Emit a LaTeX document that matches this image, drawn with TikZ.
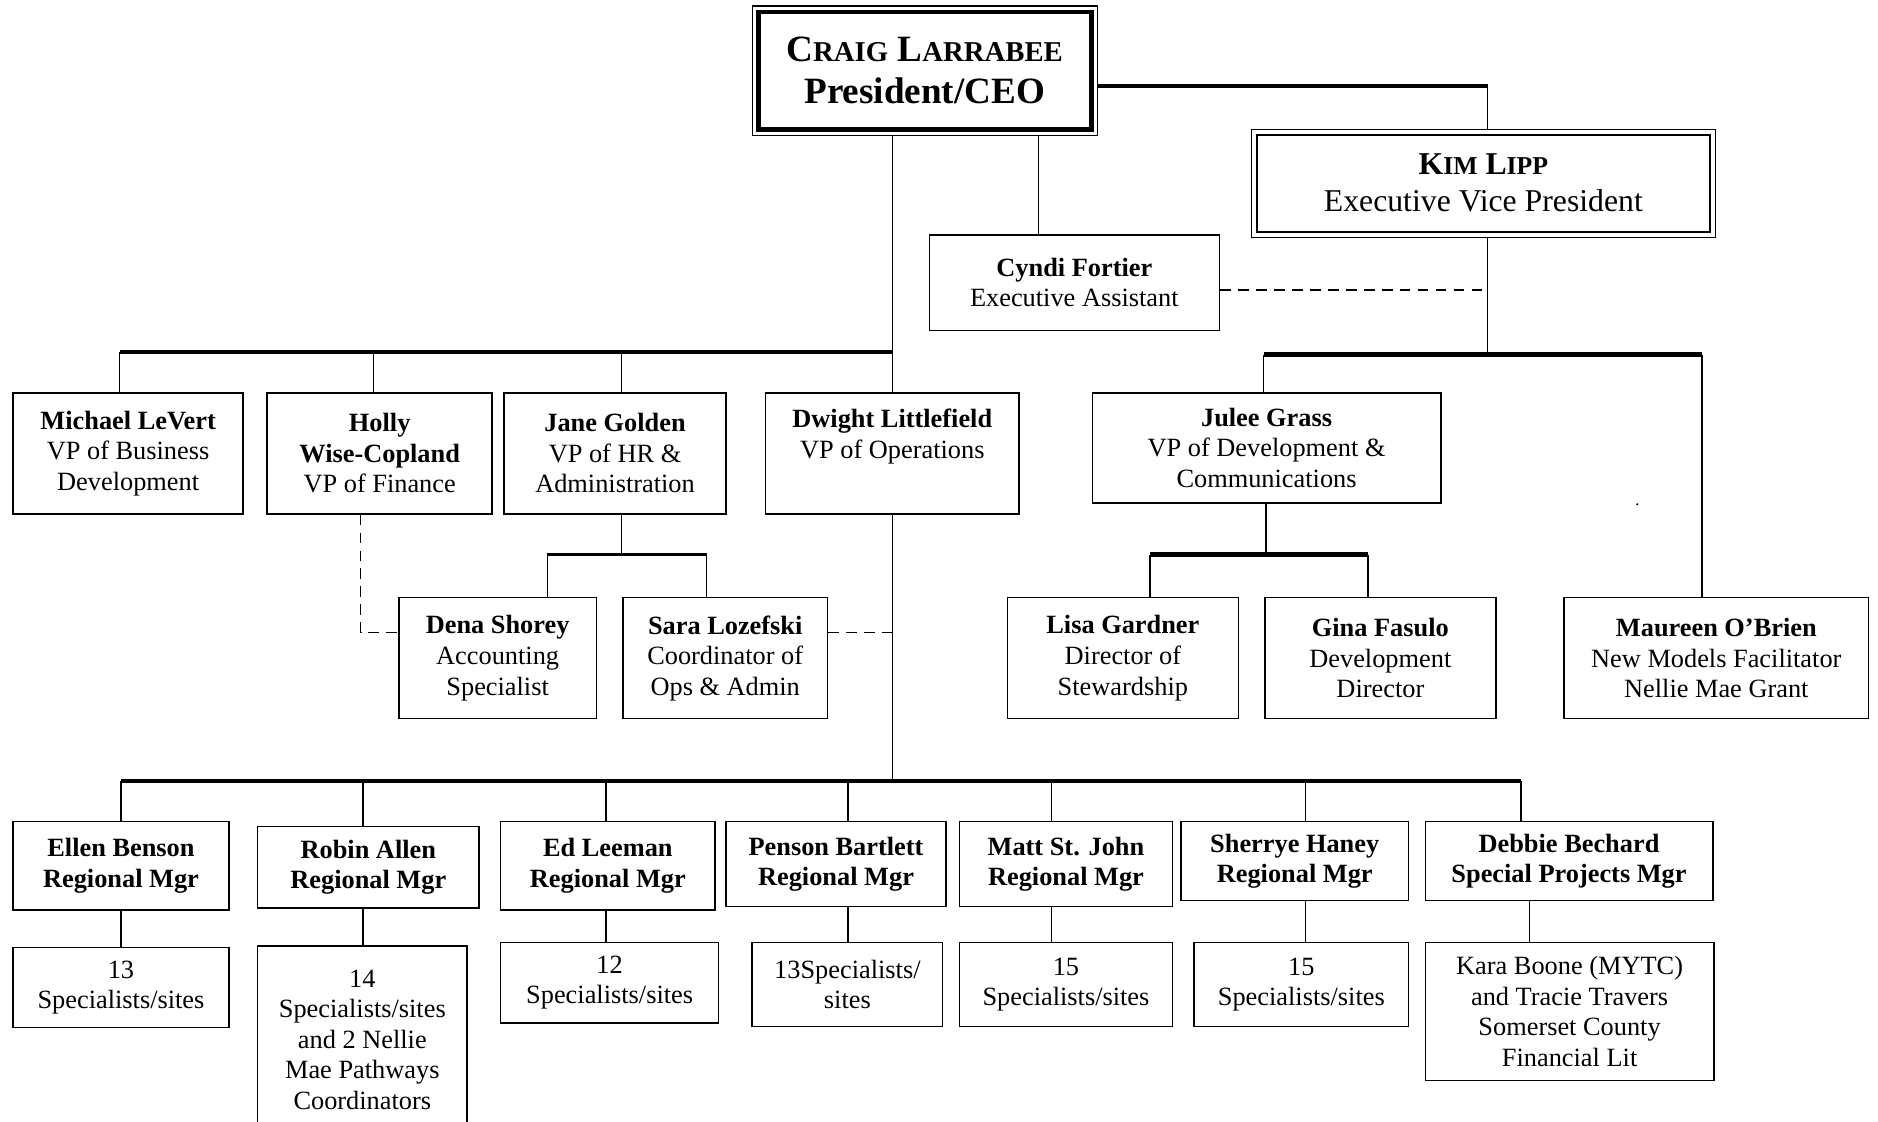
\documentclass[tikz,border=0pt]{standalone}
\usepackage{fontspec}
\setmainfont{Liberation Serif}
\newcommand\orgbox[6]{%
  \node[box, minimum width={(#3-#2)*1pt}, minimum height={(#5-#4)*1pt}] (#1) at ({(#2+#3)/2},{(#4+#5)/2}) {#6};}
\newcommand\smc[1]{{\fontsize{24}{35}\selectfont #1}}
\newcommand\smk[1]{{\fontsize{21.5}{31}\selectfont #1}}
\begin{document}
\begin{tikzpicture}[x=1pt,y=-1pt,
  box/.style={draw, line width=1.3pt, inner sep=0pt, align=center, font=\fontsize{22}{25.5}\selectfont},
  conn/.style={line width=1.2pt},
  bar/.style={line width=3.5pt},
  midbar/.style={line width=2pt},
  dashline/.style={line width=1.2pt, dash pattern=on 9pt off 6pt}]
\useasboundingbox (0,0) rectangle (1568,936);
\fill[white] (0,0) rectangle (1568,936);

% top level
\node[draw, line width=1pt, inner sep=0pt, minimum width=288pt, minimum height=108pt,
  align=center, font=\fontsize{31}{35}\selectfont\bfseries] (ceo) at (772,59)
  {C\smc{RAIG} L\smc{ARRABEE}\\President/CEO};
\draw[line width=4pt] ([shift={(5.5pt,-5.5pt)}]ceo.north west) rectangle ([shift={(-5.5pt,5.5pt)}]ceo.south east);

\node[draw, line width=1pt, inner sep=0pt, minimum width=387pt, minimum height=90pt,
  align=center, font=\fontsize{26.5}{31}\selectfont] (kim) at (1238.5,153)
  {\textbf{K\smk{IM} L\smk{IPP}}\\Executive Vice President};
\draw[line width=2pt] ([shift={(5pt,-5pt)}]kim.north west) rectangle ([shift={(-5pt,5pt)}]kim.south east);

\orgbox{cyndi}{776}{1018}{196}{276}{\textbf{Cyndi Fortier}\\Executive Assistant}

% row 2
\orgbox{michael}{11}{203}{328}{429}{\textbf{Michael LeVert}\\VP of Business\\Development}
\orgbox{holly}{223}{411}{328}{429}{\textbf{Holly}\\\textbf{Wise-Copland}\\VP of Finance}
\orgbox{jane}{421}{606}{328}{429}{\textbf{Jane Golden}\\VP of HR \&\\Administration}
\orgbox{dwight}{639}{851}{328}{429}{\textbf{Dwight Littlefield}\\VP of Operations\\\strut}
\orgbox{julee}{912}{1203}{328}{420}{\textbf{Julee Grass}\\VP of Development \&\\Communications}

% row 2b
\orgbox{dena}{333}{498}{499}{600}{\textbf{Dena Shorey}\\Accounting\\Specialist}
\orgbox{sara}{520}{691}{499}{600}{\textbf{Sara Lozefski}\\Coordinator of\\Ops \& Admin}
\orgbox{lisa}{841}{1034}{499}{600}{\textbf{Lisa Gardner}\\Director of\\Stewardship}
\orgbox{gina}{1056}{1249}{499}{600}{\textbf{Gina Fasulo}\\Development\\Director}
\orgbox{maureen}{1306}{1560}{499}{600}{\textbf{Maureen O’Brien}\\New Models Facilitator\\Nellie Mae Grant}

% row 3
\orgbox{ellen}{11}{191}{686}{760}{\textbf{Ellen Benson}\\\textbf{Regional Mgr}}
\orgbox{robin}{215}{400}{690}{758}{\textbf{Robin Allen}\\\textbf{Regional Mgr}}
\orgbox{ed}{418}{597}{686}{760}{\textbf{Ed Leeman}\\\textbf{Regional Mgr}}
\orgbox{penson}{606}{790}{686}{757}{\textbf{Penson Bartlett}\\\textbf{Regional Mgr}}
\orgbox{matt}{801}{979}{686}{757}{\textbf{Matt St. John}\\\textbf{Regional Mgr}}
\orgbox{sherrye}{986}{1176}{686}{752}{\textbf{Sherrye Haney}\\\textbf{Regional Mgr}}
\orgbox{debbie}{1190}{1430}{686}{752}{\textbf{Debbie Bechard}\\\textbf{Special Projects Mgr}}

% row 4
\orgbox{ellenS}{11}{191}{791}{858}{13\\Specialists/sites}
\orgbox{robinS}{215}{390}{790}{946}{14\\Specialists/sites\\and 2 Nellie\\Mae Pathways\\Coordinators}
\orgbox{edS}{418}{600}{787}{854}{12\\Specialists/sites}
\orgbox{pensonS}{628}{787}{787}{857}{13Specialists/\\sites}
\orgbox{mattS}{801}{979}{787}{857}{15\\Specialists/sites}
\orgbox{sherryeS}{997}{1176}{787}{857}{15\\Specialists/sites}
\orgbox{debbieS}{1190}{1431}{787}{902}{Kara Boone (MYTC)\\and Tracie Travers\\Somerset County\\Financial Lit}

% junction coordinates
\coordinate (jM) at (100,294);
\coordinate (jH) at (312,294);
\coordinate (jJ) at (519,294);
\coordinate (jD) at (745,294);
\coordinate (cy) at (867,200);
\coordinate (kA) at (1242,72);
\coordinate (jK) at (1242,296);
\coordinate (jJu) at (1055,296);
\coordinate (jMa) at (1421,296);
\coordinate (dK) at (1242,242);
\coordinate (jG) at (1057,463);
\coordinate (jLi) at (960,463);
\coordinate (jGi) at (1142,463);
\coordinate (jJa) at (519,463);
\coordinate (jDe) at (457,463);
\coordinate (jSa) at (590,463);
\coordinate (hD) at (301,528);
\coordinate (sD) at (745,528);
\coordinate (jB) at (745,652);
\coordinate (b1) at (101,652);
\coordinate (b2) at (303,652);
\coordinate (b3) at (506,652);
\coordinate (b4) at (708,652);
\coordinate (b5) at (878,652);
\coordinate (b6) at (1090,652);
\coordinate (b7) at (1270,652);
\coordinate (s7) at (1277,770);

% CEO connections
\draw[conn] (ceo.south -| jD) -- (dwight.north);
\draw[bar] (jM) -- (jD);
\draw[conn] (jM) -- (jM |- michael.north);
\draw[conn] (jH) -- (jH |- holly.north);
\draw[conn] (jJ) -- (jJ |- jane.north);
\draw[conn] (ceo.south -| cy) -- (cyndi.north -| cy);
\draw[bar] (ceo.east |- kA) -- (kA);
\draw[conn] (kA) -- (kA |- kim.north);
\draw[dashline] (cyndi.east |- dK) -- (dK);

% Kim connections
\draw[conn] (kim.south -| jK) -- (jK);
\draw[bar] (jJu) -- (jMa);
\draw[conn] (jJu) -- (jJu |- julee.north);
\draw[conn] (jMa) -- (jMa |- maureen.north);

% Julee
\draw[conn] (julee.south -| jG) -- (jG);
\draw[bar] (jLi) -- (jGi);
\draw[conn] (jLi) -- (jLi |- lisa.north);
\draw[conn] (jGi) -- (jGi |- gina.north);

% Jane
\draw[conn] (jane.south -| jJa) -- (jJa);
\draw[midbar] (jDe) -- (jSa);
\draw[conn] (jDe) -- (jDe |- dena.north);
\draw[conn] (jSa) -- (jSa |- sara.north);

% dashed
\draw[dashline] (holly.south -| hD) -- (hD) -- (hD -| dena.west);
\draw[dashline] (sara.east |- sD) -- (sD);

% Dwight
\draw[conn] (dwight.south) -- (jB);
\draw[bar] (b1) -- (b7);
\draw[conn] (b1) -- (b1 |- ellen.north);
\draw[conn] (b2) -- (b2 |- robin.north);
\draw[conn] (b3) -- (b3 |- ed.north);
\draw[conn] (b4) -- (b4 |- penson.north);
\draw[conn] (b5) -- (b5 |- matt.north);
\draw[conn] (b6) -- (b6 |- sherrye.north);
\draw[conn] (b7) -- (b7 |- debbie.north);

% row 3 to row 4
\draw[conn] (ellen.south -| b1) -- (ellenS.north -| b1);
\draw[conn] (robin.south -| b2) -- (robinS.north -| b2);
\draw[conn] (ed.south -| b3) -- (edS.north -| b3);
\draw[conn] (penson.south -| b4) -- (pensonS.north -| b4);
\draw[conn] (matt.south -| b5) -- (mattS.north -| b5);
\draw[conn] (sherrye.south -| b6) -- (sherryeS.north -| b6);
\draw[conn] (debbie.south -| s7) -- (debbieS.north -| s7);

% stray speck
\fill (1367,421) circle (1pt);
\end{tikzpicture}
\end{document}
